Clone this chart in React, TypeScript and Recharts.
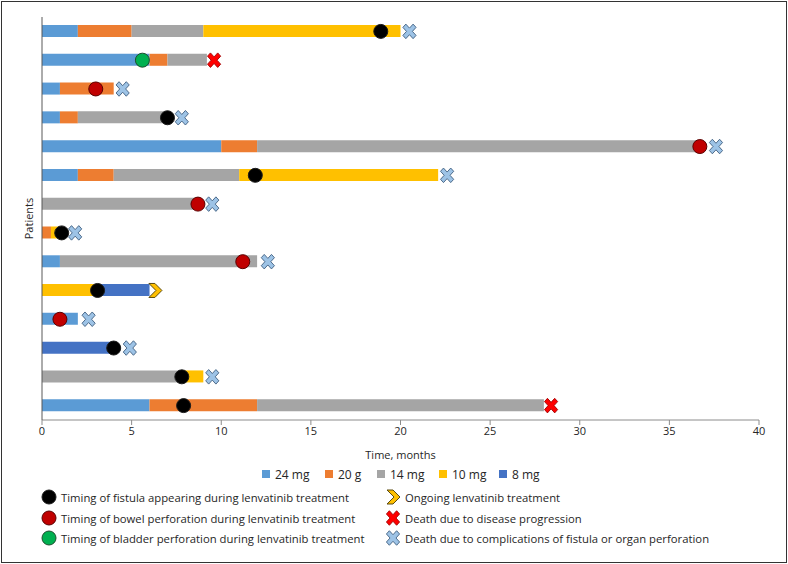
import React from 'react';
import { ComposedChart, Bar, Scatter, XAxis, YAxis } from 'recharts';

// one row per patient, top to bottom
const patients = ['P1', 'P2', 'P3', 'P4', 'P5', 'P6', 'P7', 'P8', 'P9', 'P10', 'P11', 'P12', 'P13', 'P14'];

// months spent on each dose
const dose24 = [2, 6, 1, 1, 10, 2, 0, 0, 1, 0, 2, 0, 0, 6];
const dose20 = [3, 1, 3, 1, 2, 2, 0, 0.5, 0, 0, 0, 0, 0, 6];
const dose14 = [4, 2.2, 0, 5, 24.6, 7, 8.7, 0, 11, 0, 0, 0, 7.8, 16];
const dose10 = [11, 0, 0, 0, 0, 11.1, 0, 0.5, 0, 3, 0, 0, 1.2, 0];
const dose8 = [0, 0, 0, 0, 0, 0, 0, 0, 0, 3, 0, 4, 0, 0];

// event timings (months)
const fistula = [18.9, null, null, 7.0, null, 11.9, null, 1.1, null, 3.1, null, 4.0, 7.8, 7.9];
const bowel = [null, null, 3.0, null, 36.7, null, 8.7, null, 11.2, null, 1.0, null, null, null];
const bladder = [null, 5.6, null, null, null, null, null, null, null, null, null, null, null, null];
const ongoing = [null, null, null, null, null, null, null, null, null, 6.3, null, null, null, null];
const deathPD = [null, 9.6, null, null, null, null, null, null, null, null, null, null, null, 28.4];
const deathComp = [20.5, null, 4.5, 7.8, 37.6, 22.6, 9.5, 1.85, 12.6, null, 2.6, 4.9, 9.5, null];

const xTicks = [0, 5, 10, 15, 20, 25, 30, 35, 40];

const doses = [
  { key: 'd24', label: '24 mg', color: '#5B9BD5', values: dose24 },
  { key: 'd20', label: '20 g', color: '#ED7D31', values: dose20 },
  { key: 'd14', label: '14 mg', color: '#A5A5A5', values: dose14 },
  { key: 'd10', label: '10 mg', color: '#FFC000', values: dose10 },
  { key: 'd8', label: '8 mg', color: '#4472C4', values: dose8 },
];

const data = patients.map((name, i) => {
  const row: any = { name };
  doses.forEach((d) => (row[d.key] = d.values[i]));
  row.fistula = fistula[i];
  row.bowel = bowel[i];
  row.bladder = bladder[i];
  row.ongoing = ongoing[i];
  row.deathPD = deathPD[i];
  row.deathComp = deathComp[i];
  return row;
});

const FONT = '"Open Sans", "Noto Sans", sans-serif';
const TEXT = '#262626';

// marker drawings, shared by the plot and the legend
const dot = (cx: number, cy: number, fill: string, stroke: string) => (
  <circle cx={cx} cy={cy} r={7} fill={fill} stroke={stroke} strokeWidth={1} />
);

const cross = (cx: number, cy: number, fill: string, stroke: string) => {
  const w = 2.2;
  const l = 7.6;
  const pts = [
    [w, l], [w, w], [l, w], [l, -w], [w, -w], [w, -l],
    [-w, -l], [-w, -w], [-l, -w], [-l, w], [-w, w], [-w, l],
  ];
  const c = Math.SQRT1_2;
  const p = pts
    .map(([x, y]) => `${(cx + (x - y) * c * 0.95).toFixed(2)},${(cy + (x + y) * c * 1.05).toFixed(2)}`)
    .join(' ');
  return <polygon points={p} fill={fill} stroke={stroke} strokeWidth={0.9} strokeLinejoin="round" />;
};

const chevron = (cx: number, cy: number) => {
  const pts = [[-6, -7], [0, -7], [7, 0], [0, 7], [-6, 7], [1, 0]];
  const p = pts.map(([x, y]) => `${cx + x},${cy + y}`).join(' ');
  return <polygon points={p} fill="#FFC000" stroke="#5a4a10" strokeWidth={1} strokeLinejoin="miter" />;
};

const markers = {
  fistula: (cx: number, cy: number) => dot(cx, cy, '#000000', '#1a1a1a'),
  bowel: (cx: number, cy: number) => dot(cx, cy, '#C00000', '#5a0000'),
  bladder: (cx: number, cy: number) => dot(cx, cy, '#00B050', '#1f4d2e'),
  ongoing: (cx: number, cy: number) => chevron(cx, cy),
  deathPD: (cx: number, cy: number) => cross(cx, cy, '#FF0000', '#a00000'),
  deathComp: (cx: number, cy: number) => cross(cx, cy, '#9DC3E6', '#3f5f80'),
};

const makeShape = (key: keyof typeof markers) => (props: any) => {
  if (props.cx == null || props.cy == null || props.payload?.[key] == null) return <g />;
  return markers[key](props.cx, props.cy);
};

const doseLegend = [
  { x: 262, ...doses[0] },
  { x: 325, ...doses[1] },
  { x: 377, ...doses[2] },
  { x: 439, ...doses[3] },
  { x: 499, ...doses[4] },
];

const eventLegend: { x: number; y: number; key: keyof typeof markers; text: string }[] = [
  { x: 49, y: 497, key: 'fistula', text: 'Timing of fistula appearing during lenvatinib treatment' },
  { x: 49, y: 518, key: 'bowel', text: 'Timing of bowel perforation during lenvatinib treatment' },
  { x: 49, y: 538, key: 'bladder', text: 'Timing of bladder perforation during lenvatinib treatment' },
  { x: 393, y: 497, key: 'ongoing', text: 'Ongoing lenvatinib treatment' },
  { x: 393, y: 518, key: 'deathPD', text: 'Death due to disease progression' },
  { x: 393, y: 538, key: 'deathComp', text: 'Death due to complications of fistula or organ perforation' },
];

export default function App() {
  return (
    <div style={{ position: 'absolute', left: 0, top: 0, width: 788, height: 564, background: '#fff', fontFamily: FONT }}>
      <div
        style={{
          position: 'absolute', left: 1, top: 1, width: 786, height: 562,
          border: '1.5px solid #333', boxSizing: 'border-box',
        }}
      />
      <div style={{ position: 'absolute', left: 0, top: 0 }}>
        <ComposedChart
          width={788}
          height={470}
          data={data}
          layout="vertical"
          margin={{ top: 17, right: 29, bottom: 5, left: 0 }}
          barSize={12}
        >
          <XAxis
            type="number"
            domain={[0, 40]}
            ticks={xTicks}
            height={45}
            stroke="#8c8c8c"
            tickSize={5}
            tick={{ fill: TEXT, fontSize: 11, fontFamily: FONT }}
            label={{ value: 'Time, months', position: 'insideBottom', offset: 6, fill: TEXT, fontSize: 11, fontFamily: FONT }}
          />
          <YAxis
            type="category"
            dataKey="name"
            width={42}
            stroke="#595959"
            tick={false}
            tickLine={false}
            label={{ value: 'Patients', angle: -90, position: 'center', dx: 8, fill: TEXT, fontSize: 11, fontFamily: FONT }}
          />
          {doses.map((d) => (
            <Bar key={d.key} dataKey={d.key} stackId="t" fill={d.color} isAnimationActive={false} />
          ))}
          {(Object.keys(markers) as (keyof typeof markers)[]).map((k) => (
            <Scatter key={k} dataKey={k} shape={makeShape(k)} isAnimationActive={false} />
          ))}
        </ComposedChart>
      </div>

      {doseLegend.map((d) => (
        <div key={d.key} style={{ position: 'absolute', left: d.x, top: 466, height: 16, display: 'flex', alignItems: 'center', fontSize: 12, color: TEXT }}>
          <span style={{ display: 'inline-block', width: 8, height: 8, background: d.color, marginRight: 5 }} />
          <span>{d.label}</span>
        </div>
      ))}

      {eventLegend.map((e) => (
        <div key={e.key} style={{ position: 'absolute', left: e.x - 9, top: e.y - 9, height: 18, display: 'flex', alignItems: 'center', fontSize: 11.3, color: TEXT, whiteSpace: 'nowrap' }}>
          <svg width={18} height={18} style={{ marginRight: 3 }}>
            {markers[e.key](9, 9)}
          </svg>
          <span>{e.text}</span>
        </div>
      ))}
    </div>
  );
}
